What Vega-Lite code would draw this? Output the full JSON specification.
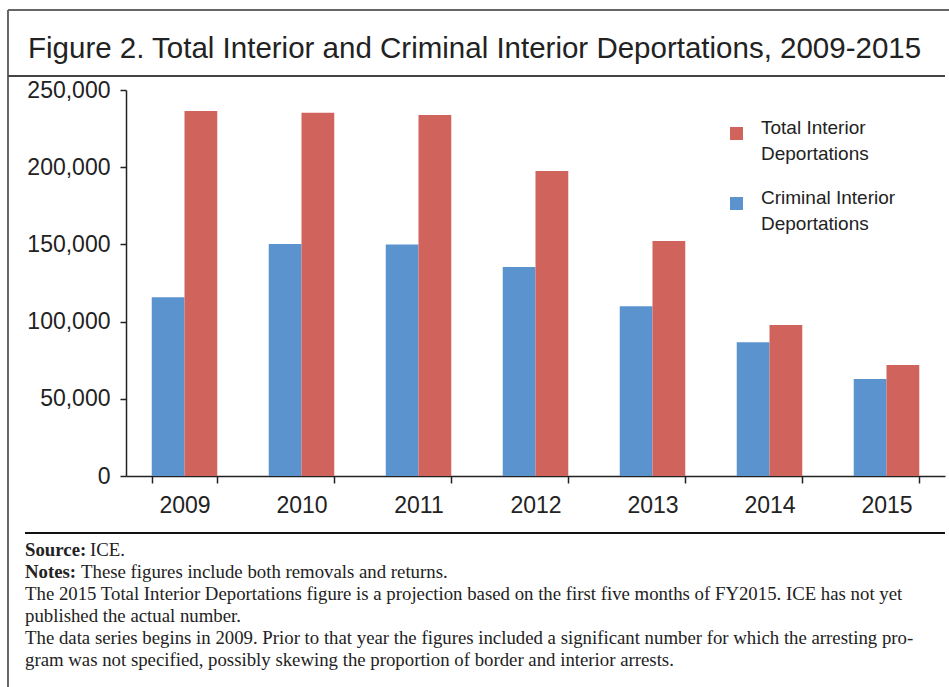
{
  "$schema": "https://vega.github.io/schema/vega-lite/v6.json",
  "width": 819,
  "height": 386,
  "autosize": {"type": "none"},
  "padding": {"left": 126, "top": 90, "right": 4, "bottom": 211},
  "background": "white",
  "title": {
    "text": "Figure 2. Total Interior and Criminal Interior Deportations, 2009-2015",
    "anchor": "start",
    "frame": "group",
    "dx": -98,
    "offset": -55,
    "font": "Liberation Sans",
    "fontSize": 29.5,
    "fontWeight": "normal",
    "color": "#222222"
  },
  "config": {
    "view": {"stroke": null},
    "numberFormat": ",",
    "style": {"guide-label": {"lineHeight": 26}},
    "axis": {
      "labelFont": "Liberation Sans",
      "labelFontSize": 23,
      "labelColor": "#222222",
      "domainColor": "#222222",
      "tickColor": "#222222",
      "domainWidth": 1.5,
      "tickWidth": 1.5,
      "grid": false,
      "title": null
    }
  },
  "resolve": {"scale": {"x": "independent"}},
  "layer": [
    {
      "data": {
        "values": [
          {"year": "2009", "series": "Criminal Interior Deportations", "value": 115700},
          {"year": "2009", "series": "Total Interior Deportations", "value": 236400},
          {"year": "2010", "series": "Criminal Interior Deportations", "value": 150300},
          {"year": "2010", "series": "Total Interior Deportations", "value": 235300},
          {"year": "2011", "series": "Criminal Interior Deportations", "value": 150000},
          {"year": "2011", "series": "Total Interior Deportations", "value": 233800},
          {"year": "2012", "series": "Criminal Interior Deportations", "value": 135400},
          {"year": "2012", "series": "Total Interior Deportations", "value": 197500},
          {"year": "2013", "series": "Criminal Interior Deportations", "value": 110000},
          {"year": "2013", "series": "Total Interior Deportations", "value": 152200},
          {"year": "2014", "series": "Criminal Interior Deportations", "value": 86600},
          {"year": "2014", "series": "Total Interior Deportations", "value": 97800},
          {"year": "2015", "series": "Criminal Interior Deportations", "value": 62800},
          {"year": "2015", "series": "Total Interior Deportations", "value": 71900}
        ]
      },
      "mark": {"type": "bar"},
      "encoding": {
        "x": {
          "field": "year",
          "type": "nominal",
          "scale": {"paddingInner": 0.44, "paddingOuter": 0.22},
          "axis": {"labelAngle": 0, "tickSize": 7, "labelPadding": 11, "tickBand": "extent", "title": null}
        },
        "xOffset": {
          "field": "series",
          "sort": ["Criminal Interior Deportations", "Total Interior Deportations"]
        },
        "y": {
          "field": "value",
          "type": "quantitative",
          "scale": {"domain": [0, 250000]},
          "axis": {
            "values": [0, 50000, 100000, 150000, 200000, 250000],
            "format": ",",
            "labelExpr": "format(datum.value, ',')",
            "tickSize": 6,
            "labelPadding": 10,
            "title": null
          }
        },
        "color": {
          "field": "series",
          "type": "nominal",
          "scale": {
            "domain": ["Total Interior Deportations", "Criminal Interior Deportations"],
            "range": ["#D0635B", "#5B93CF"]
          },
          "legend": {
            "title": null,
            "orient": "none",
            "legendX": 601,
            "legendY": 34,
            "padding": 0,
            "symbolType": "square",
            "symbolSize": 170,
            "symbolStrokeWidth": 0,
            "labelFont": "Liberation Sans",
            "labelFontSize": 19,
            "labelColor": "#222222",
            "labelOffset": 15,
            "labelLimit": 300,
            "labelBaseline": "alphabetic",
            "rowPadding": 24,
            "labelExpr": "datum.label == 'Total Interior Deportations' ? ['Total Interior', 'Deportations'] : ['Criminal Interior', 'Deportations']"
          }
        }
      }
    },
    {
      "layer": [
        {
          "data": {"values": [{}]},
          "mark": {"type": "rule", "color": "#666666", "strokeWidth": 2},
          "encoding": {
            "x": {"datum": -0.1441, "type": "quantitative", "scale": {"domain": [0, 1]}, "axis": null},
            "x2": {"datum": 1.02},
            "y": {"datum": 301800, "type": "quantitative", "scale": {"domain": [0, 250000]}, "title": null}
          }
        },
        {
          "data": {"values": [{}]},
          "mark": {"type": "rule", "color": "#666666", "strokeWidth": 2},
          "encoding": {
            "x": {"datum": -0.1441, "type": "quantitative", "scale": {"domain": [0, 1]}, "axis": null},
            "y": {"datum": 301800, "type": "quantitative", "scale": {"domain": [0, 250000]}, "title": null},
            "y2": {"datum": -150000}
          }
        },
        {
          "data": {"values": [{}]},
          "mark": {"type": "rule", "color": "#444444", "strokeWidth": 2},
          "encoding": {
            "x": {"datum": -0.1441, "type": "quantitative", "scale": {"domain": [0, 1]}, "axis": null},
            "x2": {"datum": 1.0},
            "y": {"datum": 259067, "type": "quantitative", "scale": {"domain": [0, 250000]}, "title": null}
          }
        },
        {
          "data": {"values": [{}]},
          "mark": {"type": "rule", "color": "#111111", "strokeWidth": 2},
          "encoding": {
            "x": {"datum": -0.1233, "type": "quantitative", "scale": {"domain": [0, 1]}, "axis": null},
            "x2": {"datum": 1.0},
            "y": {"datum": -36917, "type": "quantitative", "scale": {"domain": [0, 250000]}, "title": null}
          }
        },
        {
          "data": {"values": [{}]},
          "mark": {
            "type": "text",
            "text": ["Source:", "Notes:"],
            "font": "Liberation Serif",
            "fontSize": 18.8,
            "fontWeight": "bold",
            "color": "#222222",
            "align": "left",
            "baseline": "alphabetic",
            "lineHeight": 22
          },
          "encoding": {
            "x": {"datum": -0.1233, "type": "quantitative", "scale": {"domain": [0, 1]}, "axis": null},
            "y": {"datum": -51800, "type": "quantitative", "scale": {"domain": [0, 250000]}, "title": null}
          }
        },
        {
          "data": {"values": [{}]},
          "mark": {
            "type": "text",
            "text": "ICE.",
            "font": "Liberation Serif",
            "fontSize": 18.8,
            "color": "#222222",
            "align": "left",
            "baseline": "alphabetic",
            "dx": 65
          },
          "encoding": {
            "x": {"datum": -0.1233, "type": "quantitative", "scale": {"domain": [0, 1]}, "axis": null},
            "y": {"datum": -51800, "type": "quantitative", "scale": {"domain": [0, 250000]}, "title": null}
          }
        },
        {
          "data": {"values": [{}]},
          "mark": {
            "type": "text",
            "text": "These figures include both removals and returns.",
            "font": "Liberation Serif",
            "fontSize": 18.8,
            "color": "#222222",
            "align": "left",
            "baseline": "alphabetic",
            "dx": 56
          },
          "encoding": {
            "x": {"datum": -0.1233, "type": "quantitative", "scale": {"domain": [0, 1]}, "axis": null},
            "y": {"datum": -66100, "type": "quantitative", "scale": {"domain": [0, 250000]}, "title": null}
          }
        },
        {
          "data": {"values": [{}]},
          "mark": {
            "type": "text",
            "text": [
              "The 2015 Total Interior Deportations figure is a projection based on the first five months of FY2015. ICE has not yet",
              "published the actual number.",
              "The data series begins in 2009. Prior to that year the figures included a significant number for which the arresting pro-",
              "gram was not specified, possibly skewing the proportion of border and interior arrests."
            ],
            "font": "Liberation Serif",
            "fontSize": 18.8,
            "color": "#222222",
            "align": "left",
            "baseline": "alphabetic",
            "lineHeight": 22
          },
          "encoding": {
            "x": {"datum": -0.1233, "type": "quantitative", "scale": {"domain": [0, 1]}, "axis": null},
            "y": {"datum": -80300, "type": "quantitative", "scale": {"domain": [0, 250000]}, "title": null}
          }
        }
      ]
    }
  ]
}
